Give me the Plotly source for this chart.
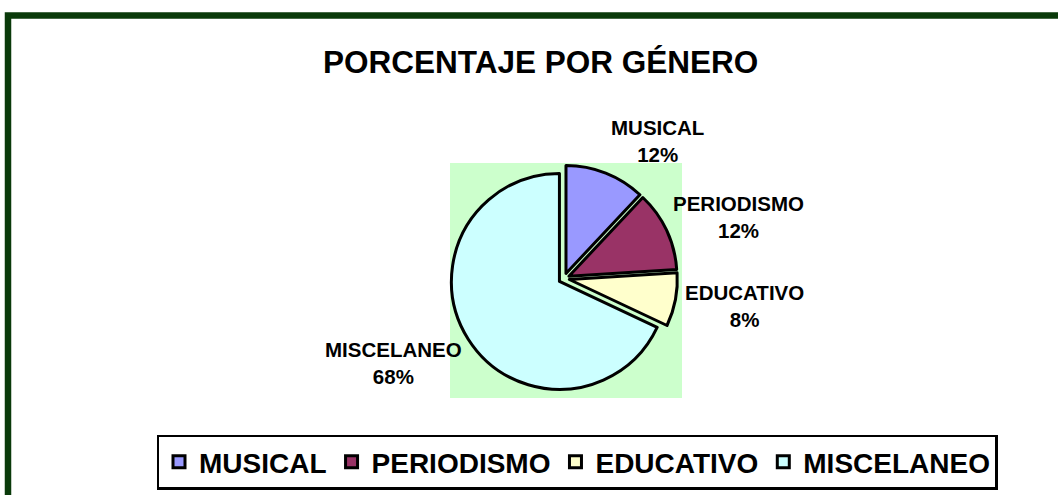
import plotly.graph_objects as go

# ---- data ----
categories = ["MUSICAL", "PERIODISMO", "EDUCATIVO", "MISCELANEO"]
percent_values = [12, 12, 8, 68]
slice_colors = ["#9999ff", "#993366", "#ffffcc", "#ccffff"]
title_text = "PORCENTAJE POR GÉNERO"

# label anchor positions (pixels in 1058x495 canvas)
label_px = [(657, 141), (738, 217), (744, 306), (393, 363)]

W, H = 1058, 495
FONT = "Arial, 'Liberation Sans', sans-serif"


def px_x(x):
    return x / W


def px_y(y):
    return 1 - y / H


# pie centre and domain half-size (pixels, top-left origin)
cx, cy, half = 564, 278.5, 113.4

fig = go.Figure()
fig.add_trace(go.Pie(
    labels=categories,
    values=percent_values,
    sort=False,
    direction="clockwise",
    rotation=0,
    pull=[0.05] * len(categories),
    marker=dict(colors=slice_colors, line=dict(color="black", width=3)),
    textinfo="none",
    hoverinfo="label+percent",
    domain=dict(x=[px_x(cx - half), px_x(cx + half)],
                y=[px_y(cy + half), px_y(cy - half)]),
))

annotations = [
    dict(text="<b>%s</b>" % title_text, x=px_x(540), y=px_y(62), xref="paper", yref="paper",
         xanchor="center", yanchor="middle", showarrow=False,
         font=dict(family=FONT, size=31.5, color="black")),
]
for cat, val, (lx, ly) in zip(categories, percent_values, label_px):
    annotations.append(dict(
        text="<b>%s<br>%d%%</b>" % (cat, val), x=px_x(lx), y=px_y(ly),
        xref="paper", yref="paper", xanchor="center", yanchor="middle",
        showarrow=False, align="center",
        font=dict(family=FONT, size=20.5, color="black")))

shapes = [
    # light green plot area behind the pie
    dict(type="rect", xref="paper", yref="paper", layer="below",
         x0=px_x(450), x1=px_x(682), y0=px_y(398), y1=px_y(163),
         fillcolor="#ccffcc", line=dict(width=0)),
    # dark green outer frame
    dict(type="rect", xref="paper", yref="paper", layer="above",
         x0=px_x(8), x1=px_x(1075), y0=px_y(515), y1=px_y(15.5),
         fillcolor="rgba(0,0,0,0)", line=dict(color="#0a3a0a", width=6.5)),
]

fig.update_layout(
    width=W, height=H,
    margin=dict(l=0, r=0, t=0, b=0),
    paper_bgcolor="white",
    plot_bgcolor="white",
    showlegend=True,
    legend=dict(
        orientation="h", x=px_x(577), xanchor="center", y=px_y(462), yanchor="middle",
        bordercolor="black", borderwidth=2.5, bgcolor="white",
        font=dict(family=FONT, size=28, color="black", weight="bold"),
        traceorder="normal",
    ),
    annotations=annotations,
    shapes=shapes,
)

fig.write_html("out.html",
               config={"displayModeBar": False},
               post_script="document.body.style.margin='0';document.body.style.overflow='hidden';")
